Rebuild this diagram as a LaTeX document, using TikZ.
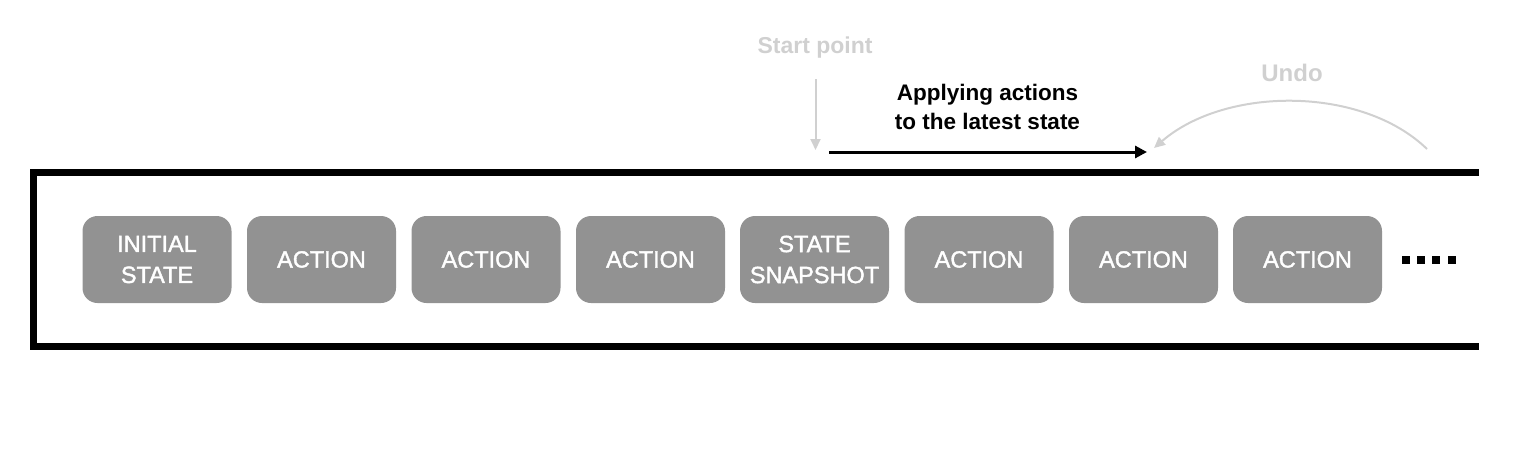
\documentclass[tikz,border=0pt]{standalone}
\usepackage{fontspec}
\setmainfont{Liberation Sans}
\newfontfamily\medfont{Liberation Sans}[FakeBold=1.6]
\usetikzlibrary{arrows.meta}
\definecolor{boxgray}{HTML}{929292}
\definecolor{lightgray}{HTML}{D0D0D0}
\begin{document}
\begin{tikzpicture}[x=1pt,y=-1pt,
  stepbox/.style={fill=boxgray, rounded corners=15pt, minimum width=149pt, minimum height=87pt,
    text=white, align=center, font=\medfont\fontsize{23.5}{31}\selectfont, inner sep=0pt},
  frame/.style={line width=7pt, black},
  dot/.style={fill=black, minimum size=8pt, inner sep=0pt},
  lightlabel/.style={text=lightgray, font=\bfseries\fontsize{23}{26}\selectfont},
  lightarrow/.style={draw=lightgray, line width=2pt, -{Triangle[length=11pt,width=10pt]}},
]
\useasboundingbox (0,0) rectangle (1533,458);
% frame
\draw[frame] (1479,172) -- (33.5,172) -- (33.5,346.5) -- (1479,346.5);
% boxes
\node[stepbox] (b1) at (157,259.5) {INITIAL\\STATE};
\node[stepbox] (b2) at (321.5,259.5) {ACTION};
\node[stepbox] (b3) at (486,259.5) {ACTION};
\node[stepbox] (b4) at (650.5,259.5) {ACTION};
\node[stepbox] (b5) at (814.5,259.5) {STATE\\SNAPSHOT};
\node[stepbox] (b6) at (979,259.5) {ACTION};
\node[stepbox] (b7) at (1143.5,259.5) {ACTION};
\node[stepbox] (b8) at (1307.5,259.5) {ACTION};
% dots
\node[dot] (d1) at (1406,259.5) {};
\node[dot] (d2) at (1421,259.5) {};
\node[dot] (d3) at (1436,259.5) {};
\node[dot] (d4) at (1452,259.5) {};
% start point
\node[lightlabel] (sp) at (815,48) {Start point};
\coordinate (sps) at (815.5,79);
\coordinate (spend) at (815.5,150);
\draw[lightarrow] (sps) -- (spend);
% applying actions
\node[font=\bfseries\fontsize{22.5}{28.5}\selectfont, align=center] (apply) at (987.5,107) {Applying actions\\to the latest state};
\coordinate (aps) at (829,152);
\coordinate (ape) at (1147,152);
\draw[line width=3pt, -{Triangle[length=12pt,width=12pt]}] (aps) -- (ape);
% undo
\node[lightlabel, font=\bfseries\fontsize{24}{26}\selectfont] (undo) at (1292,73) {Undo};
\coordinate (us) at (1427,149);
\coordinate (ue) at (1154,148);
\draw[lightarrow] (us) .. controls (1362,86) and (1226,86) .. (ue);
\end{tikzpicture}
\end{document}
